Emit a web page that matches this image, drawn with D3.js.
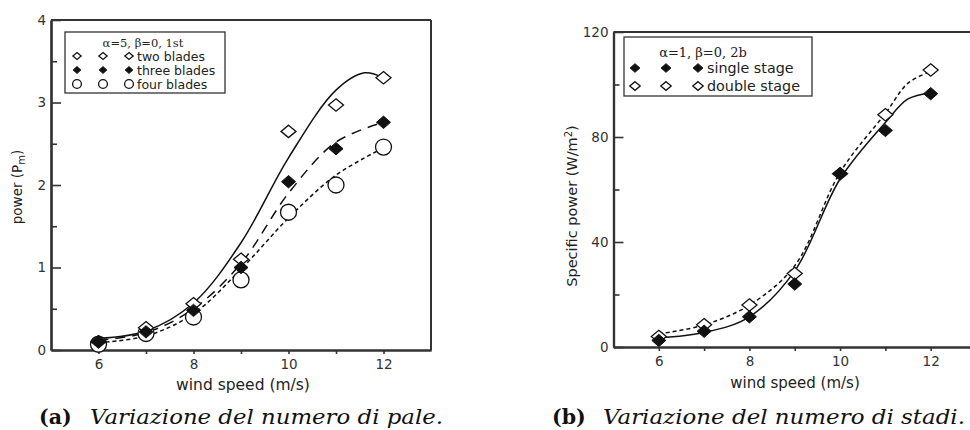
<!DOCTYPE html>
<html>
<head>
<meta charset="utf-8">
<script src="https://cdn.jsdelivr.net/npm/d3@7"></script>
<style>
  body { margin: 0; background: #fff; }
  svg { display: block; font-family: "DejaVu Sans", sans-serif; }
  .tick text { fill: #333; }
</style>
</head>
<body>
<script>
/*=================
=== The data
=================*/
var speeds = [6, 7, 8, 9, 10, 11, 12];

// (a) number of blades, power (Pm)
var twoBlades = [0.1, 0.27, 0.56, 1.1, 2.65, 2.97, 3.3];
var threeBlades = [0.1, 0.22, 0.48, 1.0, 2.04, 2.44, 2.76];
var fourBlades = [0.07, 0.2, 0.4, 0.85, 1.67, 2.0, 2.46];

// fitted curves
var twoFitX = [6, 7, 8, 9, 10, 11, 11.6, 12];
var twoFitY = [0.14, 0.23, 0.57, 1.3, 2.33, 3.15, 3.36, 3.3];
var threeFitX = [6, 7, 8, 9, 10, 11, 12];
var threeFitY = [0.12, 0.21, 0.5, 1.05, 1.9, 2.52, 2.76];
var fourFitX = [6, 7, 8, 9, 10, 11, 12];
var fourFitY = [0.09, 0.17, 0.44, 0.98, 1.6, 2.12, 2.45];

// (b) number of stages, specific power (W/m2)
var singleStage = [2.5, 6, 11.5, 24, 66, 82.5, 96.5];
var doubleStage = [4, 8.5, 16, 28, 66, 88.5, 105.5];
var stageFitX = [6, 7, 8, 9, 10, 11, 11.5, 12];
var singleFitY = [3.5, 5.5, 11.5, 29, 64, 85.5, 94.5, 96.8];
var doubleFitY = [5, 8.4, 16, 31, 66.5, 89, 100.5, 105];

var xMajor = [6, 8, 10, 12];
var xMinor = [7, 9, 11];
var yMajorA = [0, 1, 2, 3, 4];
var yMinorA = [0.5, 1.5, 2.5, 3.5];
var yMajorB = [0, 40, 80, 120];
var yMinorB = [20, 60, 100];

var legendA = ['two blades', 'three blades', 'four blades'];
var legendB = ['single stage', 'double stage'];

/*=================
=== The vars
=================*/
var svg = d3.select('body').append('svg')
	.attr('width', 970)
	.attr('height', 430);

var ink = '#111';
var axisInk = '#333';

var xA = d3.scaleLinear().domain([5, 13]).range([51, 431]);
var yA = d3.scaleLinear().domain([0, 4]).range([350, 20]);
var xB = d3.scaleLinear().domain([5, 13]).range([613.5, 976]);
var yB = d3.scaleLinear().domain([0, 120]).range([347, 32]);

/*=================
=== General functions
=================*/
function diamondPath(cx, cy, hw, hh) {
	return 'M' + cx + ',' + (cy - hh) + 'L' + (cx + hw) + ',' + cy +
		'L' + cx + ',' + (cy + hh) + 'L' + (cx - hw) + ',' + cy + 'Z';
}

function drawMarker(g, type, cx, cy, s) {
	if (type === 'open') {
		g.append('path').attr('d', diamondPath(cx, cy, 7.5 * s, 6.2 * s))
			.attr('fill', '#fff').attr('stroke', ink).attr('stroke-width', 1.3);
	} else if (type === 'filled') {
		g.append('path').attr('d', diamondPath(cx, cy, 7 * s, 6.2 * s))
			.attr('fill', ink).attr('stroke', ink).attr('stroke-width', 1);
	} else {
		g.append('circle').attr('cx', cx).attr('cy', cy).attr('r', 8 * s)
			.attr('fill', '#fff').attr('stroke', ink).attr('stroke-width', 1.3);
	}
}

function drawAxes(x, y, yMajor, yMinor, fontSize) {
	var x0 = x.range()[0], x1 = x.range()[1];
	var y0 = y.range()[0], y1 = y.range()[1];

	var gx = svg.append('g').attr('transform', 'translate(0,' + y0 + ')');
	gx.call(d3.axisBottom(x).tickValues(xMajor).tickSize(4).tickSizeOuter(0).tickPadding(5)
		.tickFormat(d3.format('d')));
	gx.append('g').call(d3.axisBottom(x).tickValues(xMinor).tickSize(4).tickSizeOuter(0).tickFormat(''));

	var gy = svg.append('g').attr('transform', 'translate(' + x0 + ',0)');
	gy.call(d3.axisLeft(y).tickValues(yMajor).tickSize(-10).tickSizeOuter(0).tickPadding(6)
		.tickFormat(d3.format('d')));
	gy.append('g').call(d3.axisLeft(y).tickValues(yMinor).tickSize(-6).tickSizeOuter(0).tickFormat(''));

	[gx, gy].forEach(function (g) {
		g.selectAll('path, line').attr('stroke', axisInk).attr('stroke-width', 1.6);
		g.selectAll('path.domain').attr('stroke-width', 2.2);
		g.selectAll('text').attr('font-size', fontSize).attr('font-family', '"DejaVu Sans", sans-serif');
	});
	gy.selectAll('.tick text').attr('x', -5);

	// top and right frame
	svg.append('line').attr('x1', x0).attr('x2', x1).attr('y1', y1).attr('y2', y1)
		.attr('stroke', axisInk).attr('stroke-width', 2);
	svg.append('line').attr('x1', x1).attr('x2', x1).attr('y1', y1).attr('y2', y0)
		.attr('stroke', axisInk).attr('stroke-width', 2);
}

function drawFit(x, y, fx, fy, dash) {
	var line = d3.line()
		.curve(d3.curveCatmullRom.alpha(0.5))
		.x(function (d) { return x(d[0]); })
		.y(function (d) { return y(d[1]); });
	svg.append('path')
		.datum(d3.zip(fx, fy))
		.attr('d', line)
		.attr('fill', 'none')
		.attr('stroke', ink)
		.attr('stroke-width', 1.5)
		.attr('stroke-dasharray', dash);
}

function drawPoints(x, y, vals, type) {
	var g = svg.append('g');
	speeds.forEach(function (s, i) { drawMarker(g, type, x(s), y(vals[i]), 1); });
}

/*=================
=== Panel (a)
=================*/
drawAxes(xA, yA, yMajorA, yMinorA, 13.5);

drawFit(xA, yA, fourFitX, fourFitY, '4,3');
drawFit(xA, yA, threeFitX, threeFitY, '10,7');
drawFit(xA, yA, twoFitX, twoFitY, null);
drawPoints(xA, yA, fourBlades, 'circle');
drawPoints(xA, yA, twoBlades, 'open');
drawPoints(xA, yA, threeBlades, 'filled');

var legA = svg.append('g');
legA.append('rect').attr('x', 65).attr('y', 32).attr('width', 160).attr('height', 61)
	.attr('fill', '#fff').attr('stroke', axisInk).attr('stroke-width', 1.3);
legA.append('text').attr('x', 143).attr('y', 47).attr('text-anchor', 'middle')
	.attr('font-family', '"DejaVu Serif", serif').attr('font-size', 11.5).attr('fill', '#222')
	.text('α=5, β=0, 1st');
['open', 'filled', 'circle'].forEach(function (t, i) {
	var cy = 56 + i * 14;
	[77, 103, 129].forEach(function (cx) { drawMarker(legA, t, cx, cy, 0.55); });
	legA.append('text').attr('x', 137).attr('y', cy + 4.5).attr('font-size', 12.5).attr('fill', '#222')
		.text(legendA[i]);
});

svg.append('text').attr('x', 243).attr('y', 390).attr('text-anchor', 'middle')
	.attr('font-size', 15.5).attr('fill', '#222').text('wind speed (m/s)');
var labA = svg.append('text').attr('transform', 'translate(22,187) rotate(-90)')
	.attr('text-anchor', 'middle').attr('font-size', 13.5).attr('fill', '#222');
labA.append('tspan').text('power (P');
labA.append('tspan').attr('font-size', 10).attr('dy', 3).text('m');
labA.append('tspan').attr('dy', -3).text(')');

/*=================
=== Panel (b)
=================*/
drawAxes(xB, yB, yMajorB, yMinorB, 13.5);

drawFit(xB, yB, stageFitX, singleFitY, null);
drawFit(xB, yB, stageFitX, doubleFitY, '4,3');
drawPoints(xB, yB, doubleStage, 'open');
drawPoints(xB, yB, singleStage, 'filled');

var legB = svg.append('g');
legB.append('rect').attr('x', 624).attr('y', 37).attr('width', 188).attr('height', 59)
	.attr('fill', '#fff').attr('stroke', axisInk).attr('stroke-width', 1.3);
legB.append('text').attr('x', 703).attr('y', 57).attr('text-anchor', 'middle')
	.attr('font-family', '"DejaVu Serif", serif').attr('font-size', 13).attr('fill', '#222')
	.text('α=1, β=0, 2b');
['filled', 'open'].forEach(function (t, i) {
	var cy = 68 + i * 18;
	[635, 666, 698].forEach(function (cx) { drawMarker(legB, t, cx, cy, 0.7); });
	legB.append('text').attr('x', 707).attr('y', cy + 5).attr('font-size', 14.3).attr('fill', '#222')
		.text(legendB[i]);
});

svg.append('text').attr('x', 795).attr('y', 388).attr('text-anchor', 'middle')
	.attr('font-size', 15).attr('fill', '#222').text('wind speed (m/s)');
var labB = svg.append('text').attr('transform', 'translate(577,206) rotate(-90)')
	.attr('text-anchor', 'middle').attr('font-size', 14.5).attr('fill', '#222');
labB.append('tspan').text('Specific power (W/m');
labB.append('tspan').attr('font-size', 10).attr('dy', -5).text('2');
labB.append('tspan').attr('dy', 5).text(')');

/*=================
=== Captions
=================*/
function caption(x, tag, x2, textEnd, str) {
	svg.append('text').attr('x', x).attr('y', 424)
		.attr('font-family', '"DejaVu Serif", serif').attr('font-weight', 'bold')
		.attr('font-size', 20.5).attr('fill', '#111').text(tag);
	svg.append('text').attr('x', x2).attr('y', 424)
		.attr('font-family', '"DejaVu Serif", serif').attr('font-style', 'italic')
		.attr('font-size', 20.5).attr('fill', '#111')
		.attr('textLength', textEnd - x2).attr('lengthAdjust', 'spacingAndGlyphs')
		.text(str);
}
caption(39, '(a)', 90, 443, 'Variazione del numero di pale.');
caption(552, '(b)', 603, 965, 'Variazione del numero di stadi.');
</script>
</body>
</html>
